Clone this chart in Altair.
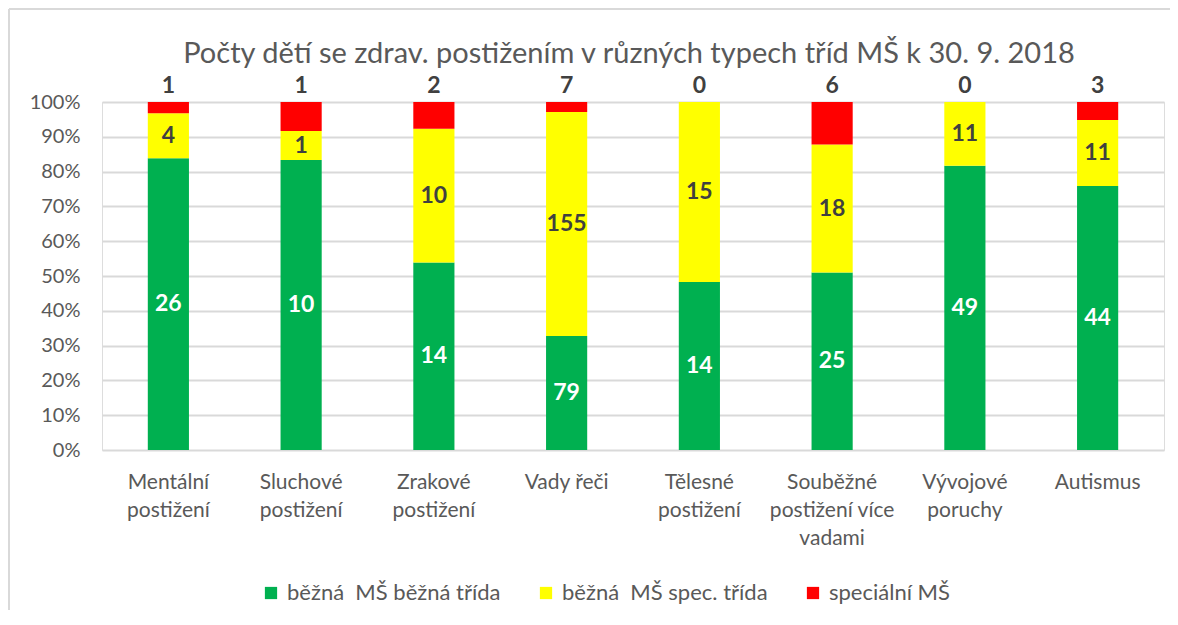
import altair as alt
import pandas as pd

categories = ["Mentální|postižení", "Sluchové|postižení", "Zrakové|postižení", "Vady řeči",
              "Tělesné|postižení", "Souběžné|postižení více|vadami", "Vývojové|poruchy", "Autismus"]
series = ["běžná\u00a0 MŠ běžná třída", "běžná\u00a0 MŠ spec. třída", "speciální MŠ"]
colors = ["#00B050", "#FFFF00", "#FF0000"]
bezna_bezna = [26, 10, 14, 79, 14, 25, 49, 44]
bezna_spec = [4, 1, 10, 155, 15, 18, 11, 11]
specialni = [1, 1, 2, 7, 0, 6, 0, 3]
title_text = "Počty dětí se zdrav. postižením v různých typech tříd MŠ k 30. 9. 2018"
y_ticks = [0, 0.1, 0.2, 0.3, 0.4, 0.5, 0.6, 0.7, 0.8, 0.9, 1.0]

rows = []
for i, c in enumerate(categories):
    for j, (s, vals) in enumerate(zip(series, [bezna_bezna, bezna_spec, specialni])):
        rows.append({"category": c, "series": s, "value": vals[i], "order": j})
df = pd.DataFrame(rows)

FONT = "Lato"
TXT = "#595959"

base = alt.Chart(df).transform_stack(
    stack="value", as_=["y0", "y1"], groupby=["category"],
    sort=[alt.SortField("order", order="ascending")], offset="normalize"
).transform_calculate(mid="(datum.y0 + datum.y1) / 2")

xaxis = alt.Axis(labelExpr="split(datum.label, '|')", labelAngle=0,
                 labelFontSize=21, labelColor=TXT, labelFont=FONT,
                 labelLineHeight=28, labelPadding=21, labelBaseline="top",
                 domain=False, ticks=False, grid=False)
xscale = alt.Scale(paddingInner=0.69, paddingOuter=0.345)
yaxis = alt.Axis(format=".0%", values=y_ticks, labelOverlap=False,
                 labelFontSize=20, labelColor=TXT, labelFont=FONT,
                 labelPadding=22, domain=False, ticks=False,
                 gridColor="#D9D9D9", gridWidth=2)
yscale = alt.Scale(domain=[0, 1])


def X():
    return alt.X("category:N", sort=categories, title=None, scale=xscale, axis=xaxis)


def Y(field):
    return alt.Y(field, title=None, scale=yscale, axis=yaxis)


bars = base.mark_bar().encode(
    x=X(),
    y=Y("y0:Q"),
    y2="y1:Q",
    color=alt.Color("series:N", sort=series, title=None,
                    scale=alt.Scale(domain=series, range=colors),
                    legend=alt.Legend(orient="none", legendX=158, legendY=480,
                                      direction="horizontal", columns=3,
                                      symbolType="square", symbolSize=150,
                                      symbolStrokeWidth=0, labelLimit=400,
                                      labelFontSize=22, labelColor=TXT, labelFont=FONT,
                                      labelOffset=5, columnPadding=34)),
    order=alt.Order("order:Q"),
)

lab_green = base.transform_filter("datum.order == 0").mark_text(
    font=FONT, fontSize=23, fontWeight="bold", color="white", baseline="middle"
).encode(x=X(), y=Y("mid:Q"), text="value:Q")

lab_yellow = base.transform_filter("datum.order == 1").mark_text(
    font=FONT, fontSize=23, fontWeight="bold", color="#404040", baseline="middle"
).encode(x=X(), y=Y("mid:Q"), text="value:Q")

lab_red = base.transform_filter("datum.order == 2").mark_text(
    font=FONT, fontSize=23, fontWeight="bold", color="#404040", baseline="middle", dy=-16
).encode(x=X(), y=Y("y1:Q"), text="value:Q")

one = alt.Chart(alt.Data(values=[{"t": title_text}]))
title = one.mark_text(font=FONT, fontSize=29, color=TXT, baseline="middle", align="center").encode(
    x=alt.value(527), y=alt.value(-48), text="t:N")
left_line = one.mark_rule(color="#D9D9D9", strokeWidth=2).encode(
    x=alt.value(-93), y=alt.value(-93), y2=alt.value(520))
top_line = one.mark_rule(color="#D9D9D9", strokeWidth=2).encode(
    x=alt.value(-93), x2=alt.value(1076), y=alt.value(-93))

chart = alt.layer(bars, lab_green, lab_yellow, lab_red, title, left_line, top_line).properties(
    width=1062, height=348,
    autosize=alt.AutoSizeParams(type="none"),
    padding={"left": 94, "top": 94, "right": 6, "bottom": 160},
).configure_view(stroke=None).configure(background="white")

chart.save("out.html", embed_options={"renderer": "svg", "actions": False})
